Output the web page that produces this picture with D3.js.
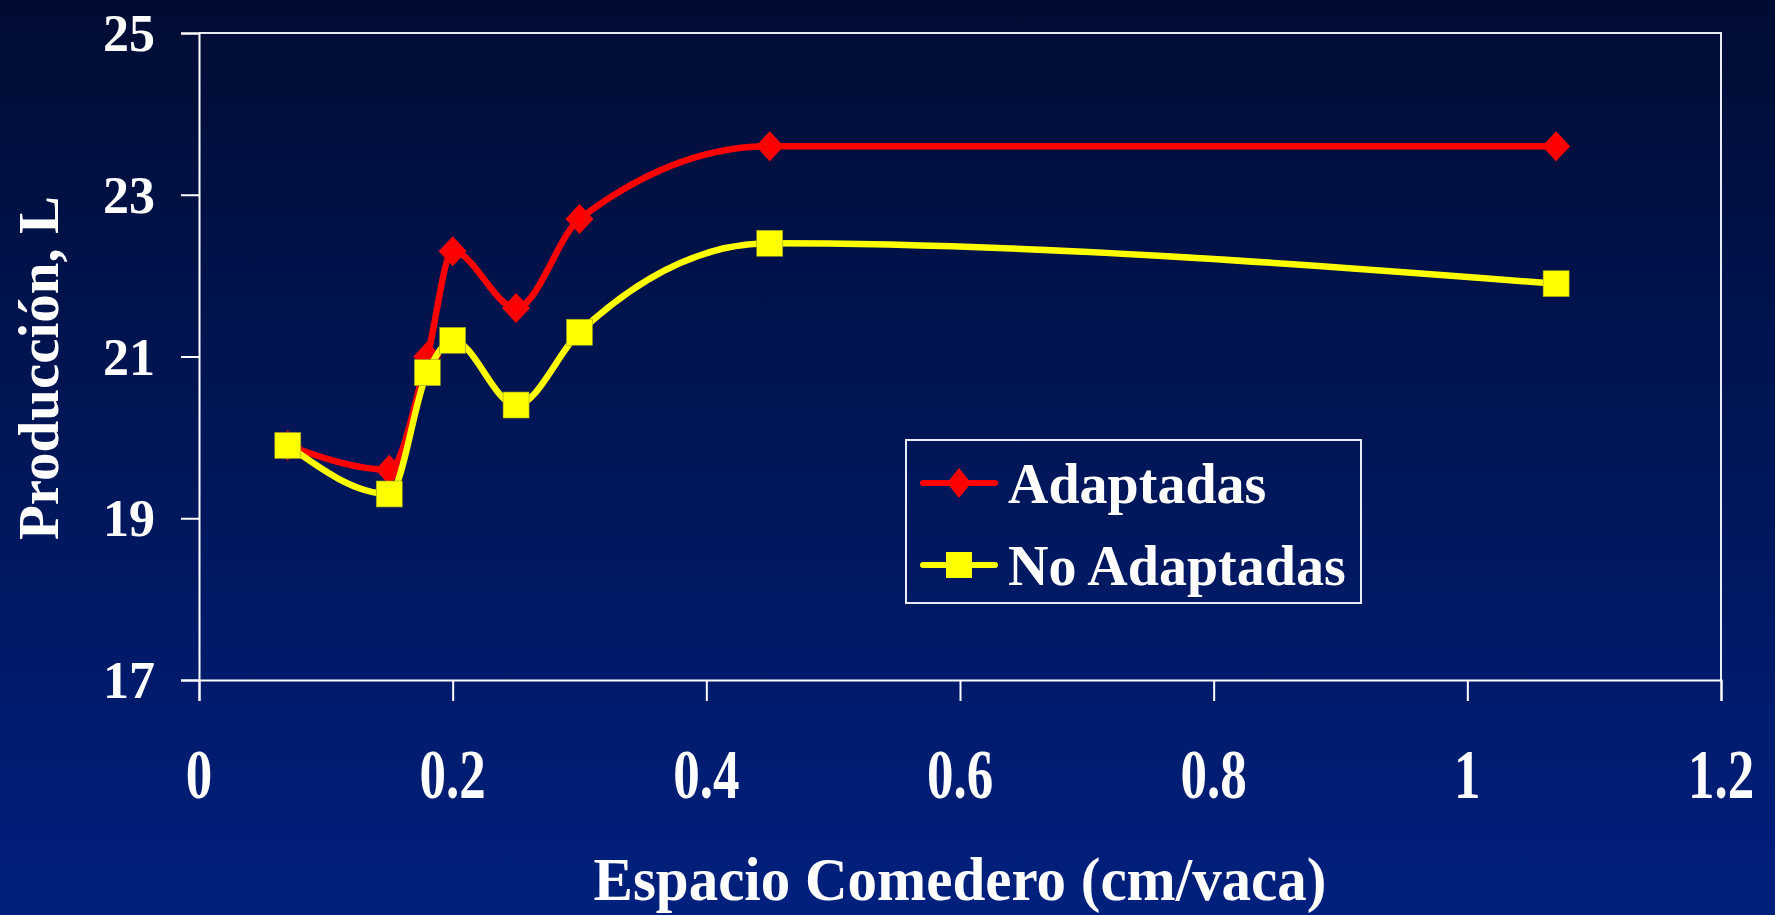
<!DOCTYPE html>
<html>
<head>
<meta charset="utf-8">
<script src="https://cdn.jsdelivr.net/npm/d3@7"></script>
<style>
	html, body { margin: 0; padding: 0; overflow: hidden; }
	body { width: 1775px; height: 915px; }
	text { font-family: "Palatino Linotype", "Book Antiqua", Palatino, "Liberation Serif", serif; font-weight: bold; fill: #fff; }
</style>
</head>
<body>
<div id="chart"></div>
<script>
// data
var seriesNames = ["Adaptadas", "No Adaptadas"];
var xAdaptadas = [0.07, 0.15, 0.18, 0.20, 0.25, 0.30, 0.45, 1.07];
var yAdaptadas = [19.9, 19.6, 21.0, 22.3, 21.6, 22.7, 23.6, 23.6];
var xNoAdaptadas = [0.07, 0.15, 0.18, 0.20, 0.25, 0.30, 0.45, 1.07];
var yNoAdaptadas = [19.9, 19.3, 20.8, 21.2, 20.4, 21.3, 22.4, 21.9];
var xTicks = [0, 0.2, 0.4, 0.6, 0.8, 1, 1.2];
var xTickLabels = ["0", "0.2", "0.4", "0.6", "0.8", "1", "1.2"];
var yTicks = [17, 19, 21, 23, 25];

var width = 1775,
	height = 915;
var margin = {left: 199, right: 54, top: 33, bottom: 235};

var svg = d3.select("#chart")
	.append("svg")
	.attr("width", width)
	.attr("height", height);

// background gradient
var grad = svg.append("defs").append("linearGradient")
	.attr("id", "bg")
	.attr("x1", 0).attr("y1", 0).attr("x2", 0).attr("y2", 1);
grad.append("stop").attr("offset", "0%").attr("stop-color", "#000c33");
grad.append("stop").attr("offset", "100%").attr("stop-color", "#00207e");
svg.append("rect")
	.attr("width", width)
	.attr("height", height)
	.attr("fill", "url(#bg)");

var x = d3.scaleLinear()
	.domain([0, 1.2])
	.range([margin.left, width - margin.right]);
var y = d3.scaleLinear()
	.domain([17, 25])
	.range([height - margin.bottom, margin.top]);

// frame: top and right edges
svg.append("path")
	.attr("d", "M" + x(0) + "," + y(25) + "H" + x(1.2) + "V" + y(17))
	.attr("fill", "none")
	.attr("stroke", "#e8ecf4")
	.attr("stroke-width", 2);

// y axis
var yAxis = svg.append("g")
	.attr("transform", "translate(" + x(0) + ",0)")
	.call(d3.axisLeft(y).tickValues(yTicks).tickSize(18).tickPadding(26).tickFormat(d3.format("d")));
yAxis.select(".domain").attr("stroke", "#fff").attr("stroke-width", 2);
yAxis.selectAll(".tick line").attr("stroke", "#fff").attr("stroke-width", 2);
yAxis.selectAll(".tick text")
	.attr("fill", "#fff")
	.attr("dy", "0.34em")
	.style("font-size", "52px");

// x axis
var xAxis = svg.append("g")
	.attr("transform", "translate(0," + y(17) + ")")
	.call(d3.axisBottom(x).tickValues(xTicks).tickSize(21).tickFormat(""));
xAxis.select(".domain").attr("stroke", "#fff").attr("stroke-width", 2);
xAxis.selectAll(".tick line").attr("stroke", "#fff").attr("stroke-width", 2);

svg.append("g")
	.selectAll("text")
	.data(xTicks)
	.enter()
	.append("text")
	.attr("transform", function (d) {
		return "translate(" + x(d) + ",798) scale(1,1.33)";
	})
	.attr("text-anchor", "middle")
	.style("font-size", "53px")
	.text(function (d, i) {
		return xTickLabels[i];
	});

// axis titles
svg.append("text")
	.attr("transform", "translate(960,900) scale(1,1.05)")
	.attr("text-anchor", "middle")
	.style("font-size", "59px")
	.text("Espacio Comedero (cm/vaca)");

svg.append("text")
	.attr("transform", "translate(58,368) rotate(-90)")
	.attr("text-anchor", "middle")
	.style("font-size", "57px")
	.text("Producción, L");

// lines
var line = d3.line()
	.x(function (d) { return x(d[0]); })
	.y(function (d) { return y(d[1]); })
	.curve(d3.curveMonotoneX);

function diamond(w, h) {
	return "M0," + (-h) + "L" + w + ",0L0," + h + "L" + (-w) + ",0Z";
}

var series = [
	{name: seriesNames[0], xs: xAdaptadas, ys: yAdaptadas, color: "#ff0000", marker: "diamond"},
	{name: seriesNames[1], xs: xNoAdaptadas, ys: yNoAdaptadas, color: "#ffff00", marker: "square"}
];

series.forEach(function (s) {
	var pts = s.xs.map(function (v, i) { return [v, s.ys[i]]; });
	svg.append("path")
		.datum(pts)
		.attr("d", line)
		.attr("fill", "none")
		.attr("stroke", s.color)
		.attr("stroke-width", 6.5)
		.attr("stroke-linejoin", "round");

	var g = svg.append("g");
	if (s.marker === "diamond") {
		g.selectAll("path")
			.data(pts)
			.enter()
			.append("path")
			.attr("d", diamond(14, 15))
			.attr("transform", function (d) { return "translate(" + x(d[0]) + "," + y(d[1]) + ")"; })
			.attr("fill", s.color);
	} else {
		g.selectAll("rect")
			.data(pts)
			.enter()
			.append("rect")
			.attr("x", function (d) { return x(d[0]) - 13; })
			.attr("y", function (d) { return y(d[1]) - 13; })
			.attr("width", 26)
			.attr("height", 26)
			.attr("fill", s.color)
			.attr("stroke", "#9a9a20")
			.attr("stroke-width", 0.6);
	}
});

// legend
var legend = svg.append("g").attr("transform", "translate(906,440)");
legend.append("rect")
	.attr("width", 455)
	.attr("height", 163)
	.attr("fill", "none")
	.attr("stroke", "#e8ecf4")
	.attr("stroke-width", 2);

series.forEach(function (s, i) {
	var row = legend.append("g").attr("transform", "translate(0," + (43 + i * 82) + ")");
	row.append("line")
		.attr("x1", 17).attr("x2", 89)
		.attr("stroke", s.color)
		.attr("stroke-width", 6)
		.attr("stroke-linecap", "round");
	if (s.marker === "diamond") {
		row.append("path")
			.attr("d", diamond(12, 15))
			.attr("transform", "translate(53,0)")
			.attr("fill", s.color);
	} else {
		row.append("rect")
			.attr("x", 40).attr("y", -13)
			.attr("width", 26).attr("height", 26)
			.attr("fill", s.color);
	}
	row.append("text")
		.attr("x", 102)
		.attr("y", 20)
		.style("font-size", "56px")
		.text(s.name);
});
</script>
</body>
</html>
